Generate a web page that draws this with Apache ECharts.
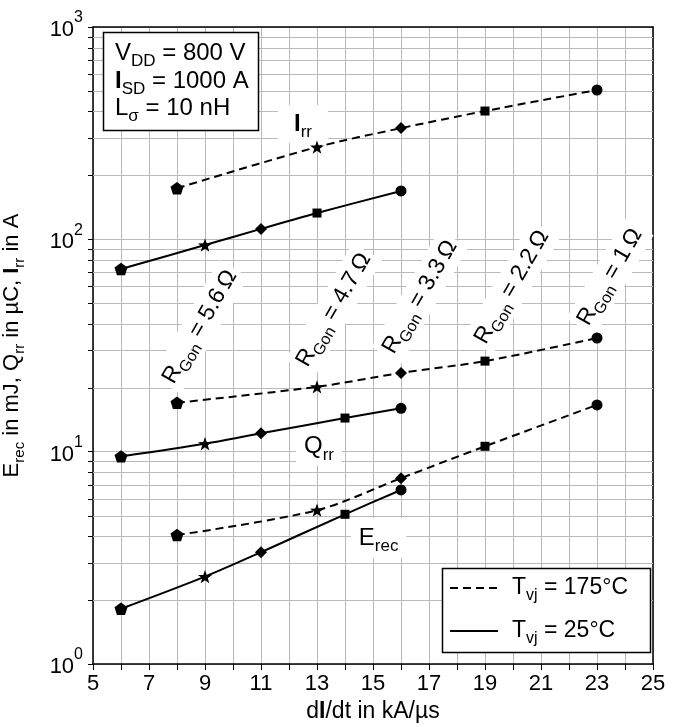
<!DOCTYPE html>
<html>
<head>
<meta charset="utf-8">
<script src="https://cdn.jsdelivr.net/npm/echarts@6/dist/echarts.min.js"></script>
<style>
  html, body { margin: 0; padding: 0; background: #fff; }
  #chart { width: 683px; height: 727px; }
</style>
</head>
<body>
<div id="chart"></div>
<script>
const FONT = '"Liberation Sans", Arial, Helvetica, sans-serif';
const GRID_GRAY = '#b9b9b9';

// Rate of current change at each measured point, kA/µs
const didt175 = [8, 13, 16, 19, 23];
const didtIrr25 = [6, 9, 11, 13, 16];
const didt25 = [6, 9, 11, 14, 16];

// Gate resistance used for each point (same order as the dI/dt arrays)
const rgonValues = ['5.6', '4.7', '3.3', '2.2', '1'];

// Peak reverse recovery current, A
const irr175 = [174, 272, 334, 402, 505];
const irr25 = [72.5, 94, 112, 133, 169];
// Reverse recovery charge, µC
const qrr175 = [17.0, 20.2, 23.5, 26.7, 34.3];
const qrr25 = [9.5, 10.9, 12.2, 14.4, 16.0];
// Reverse recovery energy, mJ
const erec175 = [4.05, 5.3, 7.5, 10.6, 16.6];
const erec25 = [1.82, 2.58, 3.36, 5.07, 6.6];

// Axis tick labels
const xTickLabels = [5, 7, 9, 11, 13, 15, 17, 19, 21, 23, 25];
const yDecades = [1, 10, 100, 1000];

// Marker per gate resistance: pentagon, star, diamond, square, circle
const PENTAGON = 'path://M0,-10L9.51,-3.09L5.88,8.09L-5.88,8.09L-9.51,-3.09Z';
const STAR = 'path://M0,-10L2.35,-3.24L9.51,-3.09L3.8,1.24L5.88,8.09L0,4L-5.88,8.09L-3.8,1.24L-9.51,-3.09L-2.35,-3.24Z';
const SYMBOLS = [PENTAGON, STAR, 'diamond', 'rect', 'circle'];
const SYMBOL_SIZES = [13, 14, 12, 9, 11];

// Logarithmic minor grid values (2..9 in each decade)
const minorGrid = [];
for (let d = 0; d < yDecades.length - 1; d++) {
  for (let k = 2; k <= 9; k++) minorGrid.push(k * yDecades[d]);
}

function rich(size) {
  return {
    n: { fontSize: size, fontFamily: FONT, color: '#000' },
    b: { fontSize: size, fontFamily: FONT, color: '#000', fontWeight: 'bold' },
    s: { fontSize: Math.round(size * 0.7), fontFamily: FONT, color: '#000',
         padding: [Math.round(size * 0.7), 0, 0, 0] }
  };
}

function curve(xs, ys, dashed) {
  return {
    type: 'line',
    xAxisIndex: 0, yAxisIndex: 0,
    data: xs.map((x, i) => ({
      value: [x, ys[i]],
      symbol: SYMBOLS[i],
      symbolSize: SYMBOL_SIZES[i]
    })),
    smooth: 0.3,
    symbolKeepAspect: true,
    showSymbol: true,
    lineStyle: { color: '#000', width: 2, type: dashed ? [8, 5] : 'solid' },
    itemStyle: { color: '#000', borderWidth: 0 },
    emphasis: { disabled: true },
    z: 3,
    animation: false
  };
}

const chart = echarts.init(document.getElementById('chart'), null, { renderer: 'canvas' });

chart.setOption({
  animation: false,
  backgroundColor: '#fff',
  grid: { left: 93, right: 30, top: 27, bottom: 63, outerBoundsMode: 'none', containLabel: false },
  xAxis: [
    {
      type: 'value', min: 5, max: 25, interval: 1,
      axisLine: { show: true, onZero: false, lineStyle: { color: '#000', width: 1.5 } },
      axisTick: { show: true, inside: false, length: 6, lineStyle: { color: '#000', width: 1 } },
      axisLabel: {
        formatter: v => (xTickLabels.indexOf(v) >= 0 ? String(v) : ''),
        fontSize: 22, fontFamily: FONT, color: '#000', margin: 9
      },
      splitLine: { show: true, lineStyle: { color: GRID_GRAY, width: 1 } },
      name: '{n|d}{b|I}{n|/dt in kA/µs}',
      nameLocation: 'middle', nameGap: 35,
      nameTextStyle: { rich: rich(23) }
    },
    {
      type: 'value', min: 5, max: 25, position: 'top',
      axisLine: { show: true, onZero: false, lineStyle: { color: '#000', width: 1.5 } },
      axisTick: { show: false }, axisLabel: { show: false }, splitLine: { show: false }
    }
  ],
  yAxis: [
    {
      type: 'log', logBase: 10, min: 1, max: 1000,
      axisLine: { show: true, onZero: false, lineStyle: { color: '#000', width: 1.5 } },
      axisTick: { show: true, inside: false, length: 5, lineStyle: { color: '#000', width: 1 } },
      axisLabel: {
        formatter: v => '{b|10}{s|' + Math.round(Math.log10(v)) + '}',
        margin: 10,
        rich: {
          b: { fontSize: 22, fontFamily: FONT, color: '#000', padding: [6, 0, 0, 0] },
          s: { fontSize: 16, fontFamily: FONT, color: '#000', padding: [0, 0, 18, 0] }
        }
      },
      splitLine: { show: true, lineStyle: { color: GRID_GRAY, width: 1 } },
      name: '{n|E}{s|rec}{n| in mJ, Q}{s|rr}{n| in µC, }{b|I}{s|rr}{n| in A}',
      nameLocation: 'middle', nameGap: 66,
      nameTextStyle: { rich: rich(22) }
    },
    {
      type: 'log', logBase: 10, min: 1, max: 1000, position: 'right',
      axisLine: { show: true, onZero: false, lineStyle: { color: '#000', width: 1.5 } },
      axisTick: { show: false }, axisLabel: { show: false }, splitLine: { show: false }
    }
  ],
  series: [
    {
      // minor logarithmic grid lines with their outward ticks
      type: 'custom',
      xAxisIndex: 0, yAxisIndex: 0,
      data: minorGrid.map(v => [5, v]),
      encode: { x: 0, y: 1 },
      clip: false,
      silent: true,
      z: 1,
      renderItem: (params, api) => {
        const v = api.value(1);
        const p0 = api.coord([5, v]);
        const p1 = api.coord([25, v]);
        const y = Math.round(p0[1]) + 0.5;
        return {
          type: 'group',
          children: [
            { type: 'line', shape: { x1: p0[0], y1: y, x2: p1[0], y2: y },
              style: { stroke: GRID_GRAY, lineWidth: 1 } },
            { type: 'line', shape: { x1: p0[0] - 5, y1: y, x2: p0[0], y2: y },
              style: { stroke: '#000', lineWidth: 1 } }
          ]
        };
      }
    },
    curve(didt175, irr175, true),
    curve(didtIrr25, irr25, false),
    curve(didt175, qrr175, true),
    curve(didt25, qrr25, false),
    curve(didt175, erec175, true),
    curve(didt25, erec25, false)
  ]
});

// Annotation anchors (data coordinates of label centres)
const rgonAnchors = [[8.82, 38.7], [13.6, 46.5], [16.68, 53.5], [19.96, 59.6], [23.46, 66.5]];
const curveLabelAnchors = {
  irr: [12.5, 349],
  qrr: [13.07, 10.58],
  erec: [15.2, 3.92]
};

function px(pt) {
  return chart.convertToPixel({ xAxisIndex: 0, yAxisIndex: 0 }, pt);
}

function label(text, pt, size, opts) {
  const p = px(pt);
  return Object.assign({
    type: 'text', x: p[0], y: p[1], z: 2, silent: true,
    style: Object.assign({
      text: text, rich: rich(size),
      align: 'center', verticalAlign: 'middle',
      textAlign: 'center', textVerticalAlign: 'middle',
      backgroundColor: '#fff'
    }, opts.style || {})
  }, opts.el || {});
}

const graphics = [];

rgonValues.forEach((r, i) => {
  graphics.push(label('{n|R}{s|Gon}{n| = ' + r + '\u2009Ω}', rgonAnchors[i], 23,
    { el: { rotation: Math.PI / 3 }, style: { padding: [1, 4] } }));
});

graphics.push(label('{b|I}{s|rr}', curveLabelAnchors.irr, 24, { style: { padding: [2, 16] } }));
graphics.push(label('{n|Q}{s|rr}', curveLabelAnchors.qrr, 24, { style: { padding: [2, 8] } }));
graphics.push(label('{n|E}{s|rec}', curveLabelAnchors.erec, 24, { style: { padding: [3, 8] } }));

// Test-condition box
graphics.push({
  type: 'rect', z: 4, silent: true,
  shape: { x: 103.5, y: 32.5, width: 155, height: 98 },
  style: { fill: '#fff', stroke: '#000', lineWidth: 1.5 }
});
[
  ['{n|V}{s|DD}{n| = 800 V}', 53],
  ['{b|I}{s|SD}{n| = 1000 A}', 81],
  ['{n|L}{s|σ}{n| = 10 nH}', 108]
].forEach(([t, y]) => {
  graphics.push({
    type: 'text', x: 115, y: y, z: 5, silent: true,
    style: { text: t, rich: rich(24), align: 'left', verticalAlign: 'middle',
             textAlign: 'left', textVerticalAlign: 'middle' }
  });
});

// Temperature key
graphics.push({
  type: 'rect', z: 4, silent: true,
  shape: { x: 442.5, y: 568.5, width: 208, height: 84 },
  style: { fill: '#fff', stroke: '#000', lineWidth: 1.5 }
});
graphics.push({
  type: 'line', z: 5, silent: true,
  shape: { x1: 450, y1: 588, x2: 498, y2: 588 },
  style: { stroke: '#000', lineWidth: 2, lineDash: [8, 5] }
});
graphics.push({
  type: 'line', z: 5, silent: true,
  shape: { x1: 450, y1: 631, x2: 498, y2: 631 },
  style: { stroke: '#000', lineWidth: 2 }
});
[
  ['{n|T}{s|vj}{n| = 175°C}', 588],
  ['{n|T}{s|vj}{n| = 25°C}', 631]
].forEach(([t, y]) => {
  graphics.push({
    type: 'text', x: 512, y: y, z: 5, silent: true,
    style: { text: t, rich: rich(23), align: 'left', verticalAlign: 'middle',
             textAlign: 'left', textVerticalAlign: 'middle' }
  });
});

chart.setOption({ graphic: graphics });
</script>
</body>
</html>
